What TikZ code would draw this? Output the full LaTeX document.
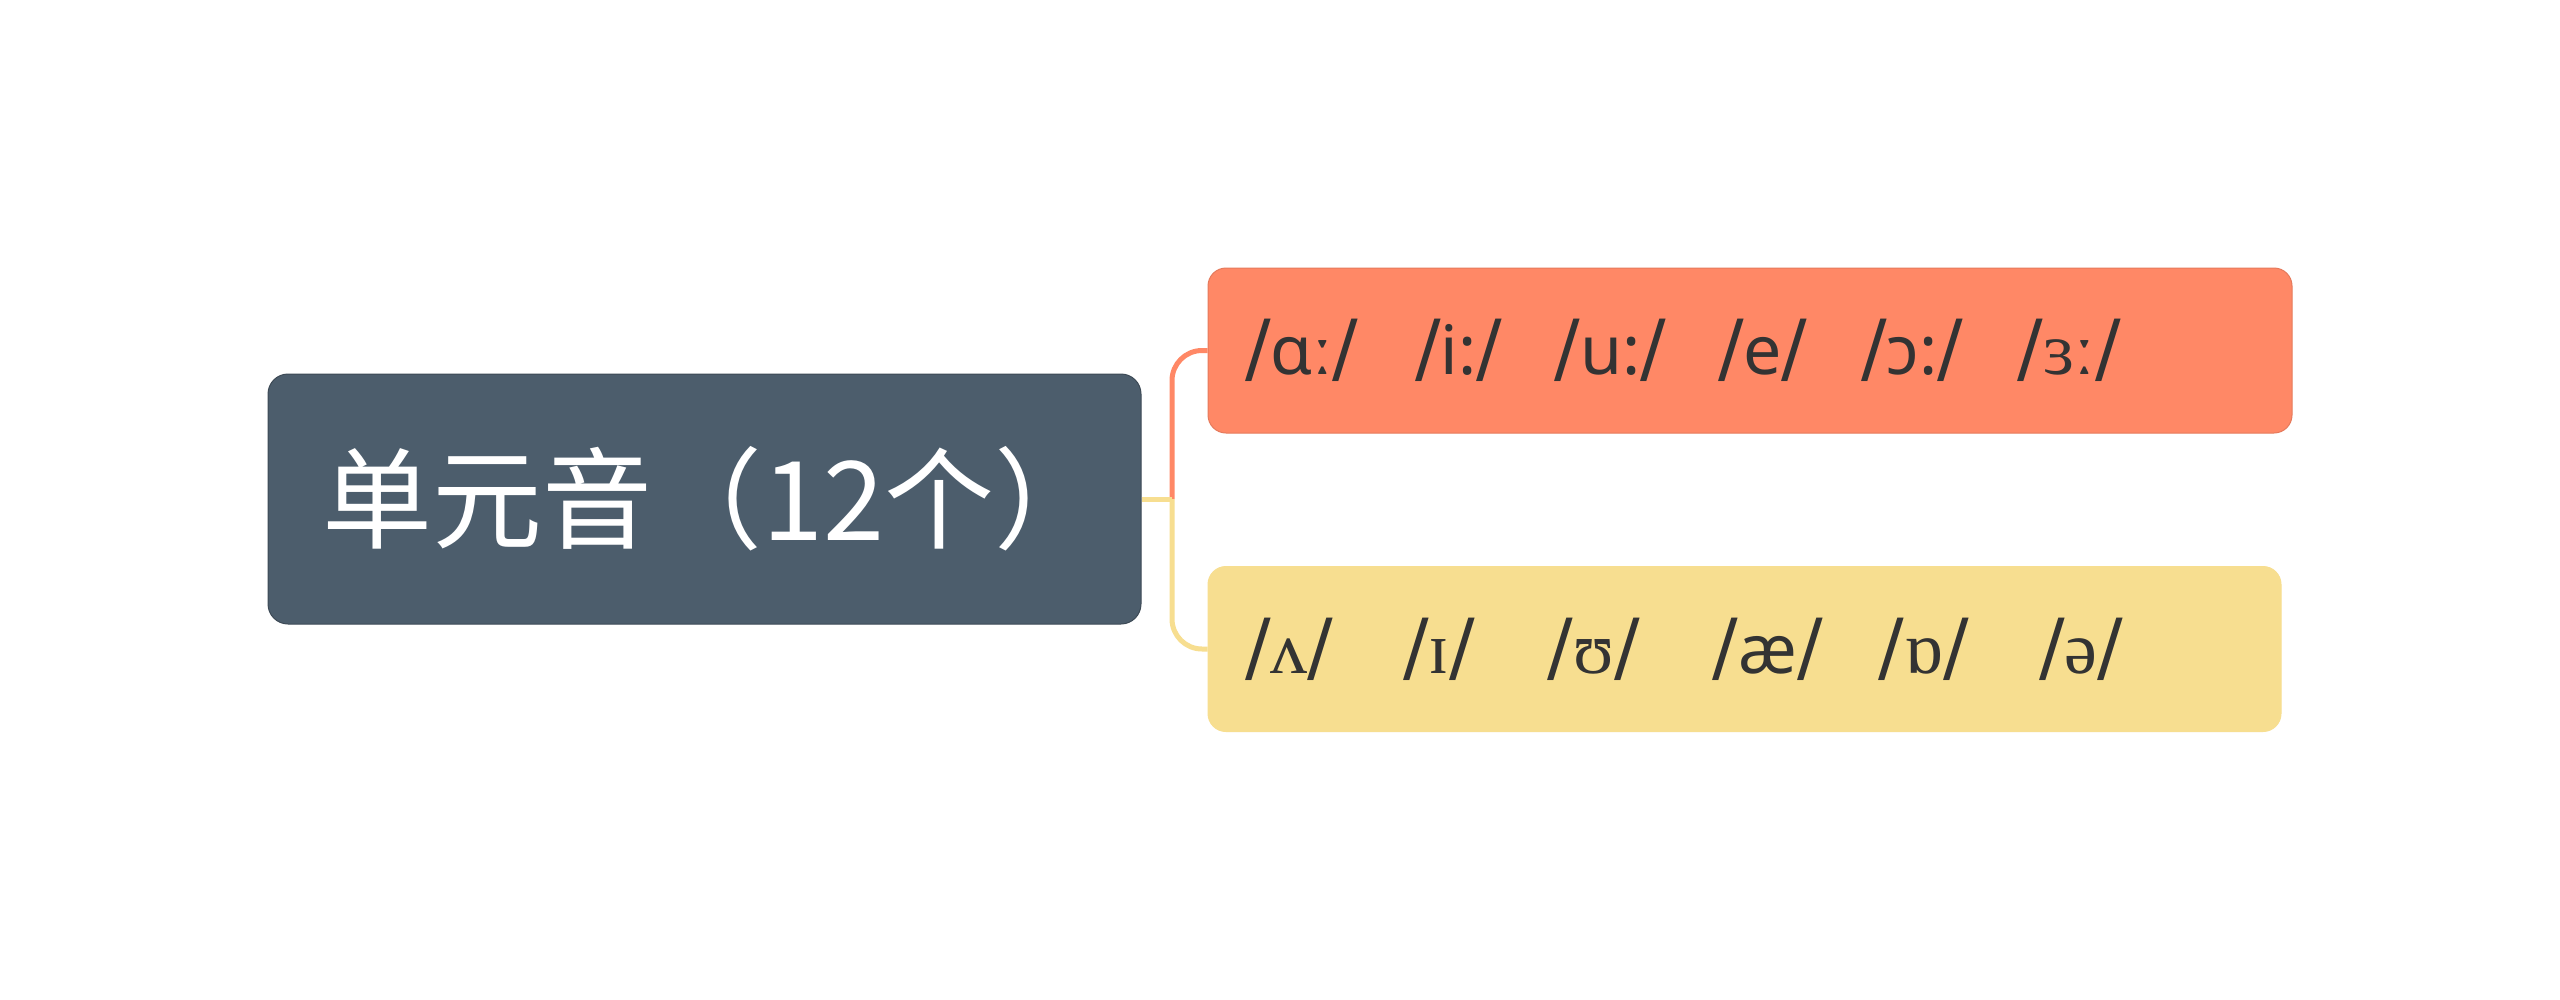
\documentclass[tikz,border=0pt]{standalone}
\usepackage{fontspec}
\setmainfont{Noto Sans}
\newfontfamily\cjk{Noto Sans CJK SC}
\newfontfamily\ipaserif{Liberation Serif}
\newfontfamily\dvsans{DejaVu Sans}
\definecolor{rootc}{HTML}{4C5D6C}
\definecolor{orangec}{HTML}{FF8866}
\definecolor{yellowc}{HTML}{F7DE90}
\definecolor{txt}{HTML}{333333}
\newcommand\slsh{{\dvsans\fontsize{76}{80}\selectfont/}}
\newcommand\srf[1]{{\ipaserif\fontsize{74}{80}\selectfont #1}}
\newcommand\ph[2]{\makebox[#1pt][l]{#2}}
\tikzset{
  rootbox/.style={rectangle, rounded corners=20pt, fill=rootc, draw=rootc!80!black, line width=1pt,
    minimum height=250pt, text width=765pt, inner xsep=54pt, align=left,
    text=white, font=\cjk\fontsize{110}{120}\selectfont},
  leafbox/.style={rectangle, rounded corners=18pt, line width=1pt,
    minimum height=165pt, inner xsep=37pt, align=left, text=txt,
    font=\fontsize{68}{80}\selectfont},
  branch/.style={line width=5pt, rounded corners=30pt}
}
\begin{document}
\begin{tikzpicture}[x=1pt,y=-1pt]
\useasboundingbox[fill=white] (0,0) rectangle (2560,999);
\node[rootbox] (root) at (704.5,499) {单元音（12个）};
\node[leafbox, fill=orangec, draw=orangec!90!black, text width=1010pt] (o) at (1750,350.5)
  {\ph{170}{\slsh ɑ{\srf{ː}}\slsh}\ph{140}{\slsh i:\slsh}\ph{163}{\slsh u:\slsh}\ph{143}{\slsh e\slsh}\ph{157}{\slsh ɔ:\slsh}\slsh\srf{ɜː}\slsh};
\node[leafbox, fill=yellowc, draw=yellowc, text width=999pt] (y) at (1744.5,649)
  {\ph{158}{\slsh\srf{ʌ}\slsh}\ph{145}{\slsh\srf{ɪ}\slsh}\ph{165}{\slsh\srf{ʊ}\slsh}\ph{166}{\slsh æ\slsh}\ph{160}{\slsh\srf{ɒ}\slsh}\slsh\srf{ə}\slsh};
\coordinate (trunk) at (1172,499);
\draw[branch, draw=orangec] (trunk) |- (o.west);
\draw[line width=5pt, draw=yellowc] (root.east) -- (trunk);
\draw[branch, draw=yellowc] (trunk) |- (y.west);
\end{tikzpicture}
\end{document}
